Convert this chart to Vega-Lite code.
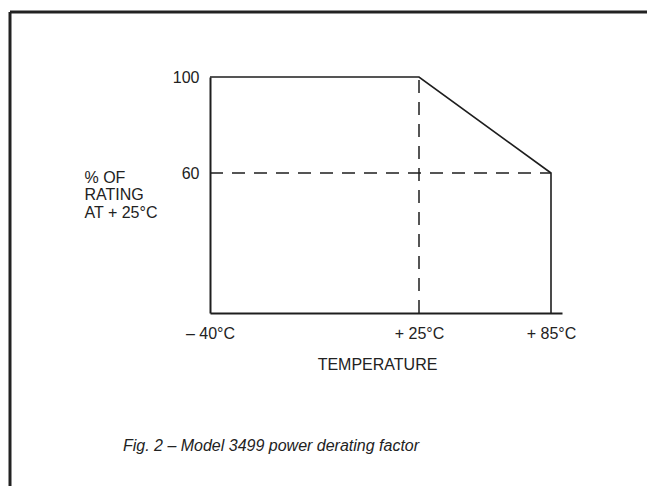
{
  "$schema": "https://vega.github.io/schema/vega-lite/v6.json",
  "width": 352,
  "height": 236,
  "autosize": {"type": "none"},
  "padding": {"left": 210, "top": 77, "right": 85, "bottom": 173},
  "background": "white",
  "config": {
    "view": {"stroke": null},
    "font": "Liberation Sans"
  },
  "title": {
    "text": "Fig. 2 – Model 3499 power derating factor",
    "orient": "bottom",
    "frame": "group",
    "anchor": "middle",
    "offset": 0,
    "dx": -115,
    "dy": -36,
    "baseline": "alphabetic",
    "font": "Liberation Sans",
    "fontSize": 16,
    "fontStyle": "italic",
    "fontWeight": "normal",
    "color": "#222"
  },
  "datasets": {
    "curve": [
      {"t": -40, "p": 100, "o": 1},
      {"t": 25, "p": 100, "o": 2},
      {"t": 85, "p": 60, "o": 3},
      {"t": 85, "p": 0, "o": 4}
    ],
    "dashed": [
      {"t": -40, "t2": 85, "p": 60, "p2": 60},
      {"t": 25, "t2": 25, "p": 0, "p2": 100}
    ],
    "frame": [
      {"t": -102.2, "t2": -102.2, "p": -74.1, "p2": 127.1},
      {"t": -102.2, "t2": 140, "p": 127.1, "p2": 127.1}
    ]
  },
  "layer": [
    {
      "data": {"name": "curve"},
      "mark": {"type": "line", "color": "#1e1e1e", "strokeWidth": 1.6, "clip": false},
      "encoding": {
        "x": {
          "field": "t",
          "type": "quantitative",
          "scale": {"domain": [-40, 25, 90], "range": [0, 209, 352], "nice": false, "zero": false},
          "axis": {
            "values": [-40, 25, 85],
            "labelExpr": "datum.value == -40 ? '– 40°C' : datum.value == 25 ? '+ 25°C' : '+ 85°C'",
            "grid": false,
            "ticks": false,
            "tickSize": 0,
            "domainColor": "#1e1e1e",
            "domainWidth": 2,
            "labelPadding": 25,
            "labelBaseline": "alphabetic",
            "labelFontSize": 16,
            "labelColor": "#222",
            "labelFlush": false,
            "labelOverlap": false,
            "title": "TEMPERATURE",
            "titleFontSize": 16,
            "titleFontWeight": "normal",
            "titleColor": "#222",
            "titleX": 167,
            "titleY": 56,
            "titleBaseline": "alphabetic",
            "titleAnchor": "middle",
            "titleAlign": "center"
          }
        },
        "y": {
          "field": "p",
          "type": "quantitative",
          "scale": {"domain": [0, 60, 100], "range": [236, 96, 0], "nice": false, "zero": false},
          "axis": {
            "values": [60, 100],
            "grid": false,
            "ticks": false,
            "tickSize": 0,
            "domainColor": "#1e1e1e",
            "domainWidth": 2,
            "labelPadding": 11,
            "labelFontSize": 16,
            "labelColor": "#222",
            "labelFlush": false,
            "labelBaseline": "middle",
            "title": ["% OF", "RATING", "AT   + 25°C"],
            "titleAngle": 0,
            "titleAlign": "left",
            "titleBaseline": "alphabetic",
            "titleX": -126,
            "titleY": 105,
            "titleLineHeight": 17.5,
            "titleFontSize": 16,
            "titleFontWeight": "normal",
            "titleColor": "#222"
          }
        },
        "order": {"field": "o", "type": "quantitative"}
      }
    },
    {
      "data": {"name": "dashed"},
      "mark": {"type": "rule", "color": "#1e1e1e", "strokeWidth": 1.5, "strokeDash": [13, 9]},
      "encoding": {
        "x": {"field": "t", "type": "quantitative"},
        "x2": {"field": "t2"},
        "y": {"field": "p", "type": "quantitative"},
        "y2": {"field": "p2"}
      }
    },
    {
      "data": {"name": "frame"},
      "mark": {"type": "rule", "color": "#222", "strokeWidth": 3},
      "encoding": {
        "x": {"field": "t", "type": "quantitative"},
        "x2": {"field": "t2"},
        "y": {"field": "p", "type": "quantitative"},
        "y2": {"field": "p2"}
      }
    }
  ]
}
